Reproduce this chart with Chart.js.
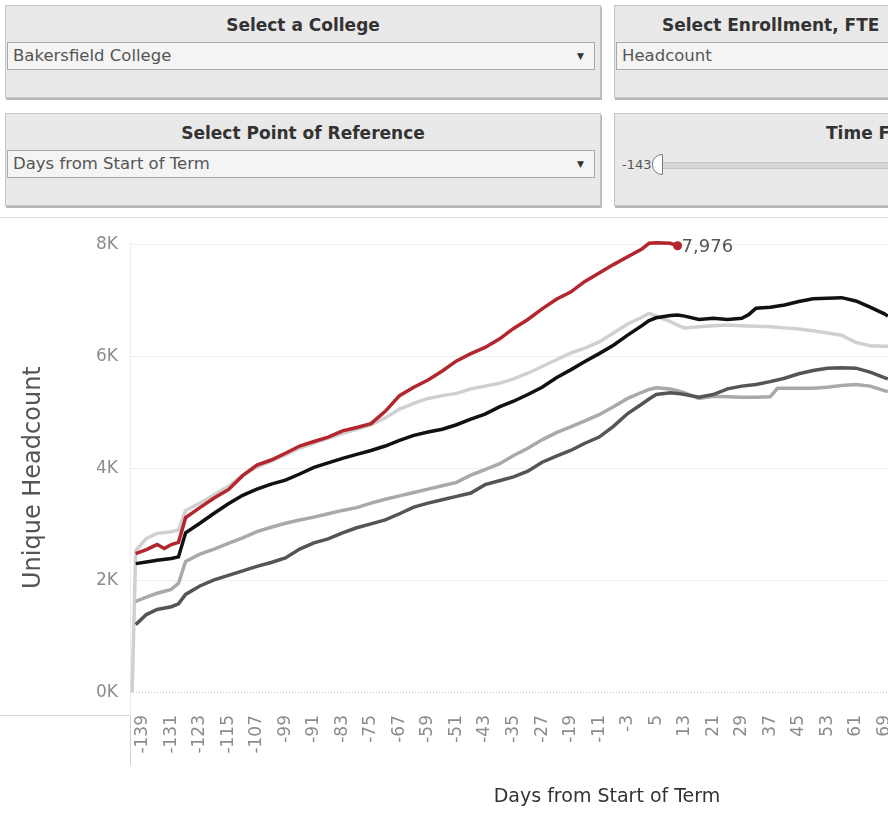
<!DOCTYPE html>
<html>
<head>
<meta charset="utf-8">
<script src="https://cdn.jsdelivr.net/npm/chart.js@4"></script>
<style>
  html, body { margin: 0; padding: 0; }
  body { width: 888px; height: 813px; overflow: hidden; position: relative; background: #fff; font-family: "DejaVu Sans", sans-serif; }
  .panel { position: absolute; width: 596px; height: 93px; background: #e9e9e9; border: 1px solid #c4c4c4; box-shadow: 1px 2px 0 #b8b8b8; box-sizing: border-box; }
  .ptitle { position: absolute; top: 9px; left: 0; right: 0; text-align: center; font-weight: bold; font-size: 17px; color: #333; white-space: nowrap; }
  .drop { position: absolute; left: 1px; right: 5px; top: 36px; height: 28px; background: #f4f4f4; border: 1px solid #a9a9a9; box-sizing: border-box; font-size: 16.5px; color: #555; line-height: 26px; padding-left: 5px; white-space: nowrap; }
  .arrow { position: absolute; right: 10px; top: 0; font-size: 9px; color: #333; }
  .sep { position: absolute; left: 0; top: 217px; width: 888px; height: 1px; background: #dcdcdc; }
  #chartBox { position: absolute; left: 0; top: 220px; width: 1084px; height: 593px; }
</style>
</head>
<body>
<div class="panel" style="left:5px;top:5px">
  <div class="ptitle">Select a College</div>
  <div class="drop">Bakersfield College<span class="arrow">&#9660;</span></div>
</div>
<div class="panel" style="left:5px;top:113px">
  <div class="ptitle">Select Point of Reference</div>
  <div class="drop">Days from Start of Term<span class="arrow">&#9660;</span></div>
</div>
<div class="panel" style="left:614px;top:5px">
  <div class="ptitle" style="text-align:left;left:47px">Select Enrollment, FTE</div>
  <div class="drop" style="right:0">Headcount</div>
</div>
<div class="panel" style="left:614px;top:113px">
  <div class="ptitle" style="text-align:left;left:211px">Time F</div>
  <div style="position:absolute;left:7px;top:43px;font-size:13px;color:#555">-143</div>
  <div style="position:absolute;left:47px;top:48px;width:600px;height:5px;background:#d6d6d6;border:1px solid #c6c6c6"></div>
  <div style="position:absolute;left:37px;top:40px;width:9px;height:19px;background:#fff;border:1px solid #777;border-radius:10px 0 0 10px"></div>
</div>
<div class="sep"></div>
<div id="chartBox"><canvas id="chart" width="1084" height="593"></canvas></div>

<script>
// days from start of term (shared x values)
const days = [-142, -141, -138, -135, -133, -131, -129, -127,
  -123, -119, -115, -111, -107, -103, -99, -95, -91, -87, -83, -79, -75, -71,
  -67, -63, -59, -55, -51, -47, -43, -39, -35, -31, -27, -23, -19, -15, -11,
  -7, -3, 1, 3, 5, 9, 11, 13, 17, 21, 25, 29, 31, 33, 37, 39, 41, 45, 49,
  53, 57, 61, 65, 69, 70];

// unique headcount per term (null = no reading at that day)
const termCurrent = [null, 2480, 2550, 2640, 2570, 2640, 2680, 3120,
  3300, 3470, 3620, 3870, 4060, 4150, 4270, 4400, 4480, 4560, 4670, 4730, 4800, 5020,
  5300, 5450, 5580, 5740, 5920, 6050, 6160, 6310, 6500, 6660, 6850, 7020, 7150, 7340, 7490,
  7640, 7780, 7920, 8020, 8030, 8020, 7976, null, null, null, null, null, null, null, null, null, null, null, null,
  null, null, null, null, null, null];

const termBlack = [null, 2300, 2330, 2360, null, 2390, 2420, 2850,
  3020, 3200, 3370, 3520, 3630, 3720, 3790, 3900, 4020, 4100, 4180, 4250, 4320, 4400,
  4500, 4590, 4650, 4700, 4780, 4880, 4970, 5100, 5200, 5320, 5450, 5620, 5760, 5910, 6050,
  6200, 6380, 6550, 6640, 6690, 6730, 6740, 6720, 6660, 6680, 6660, 6680, 6750, 6860, 6880, null, 6920, 6980, 7030,
  7040, 7050, 6990, 6880, 6760, 6720];

const termLight = [0, 2530, 2750, 2840, null, 2870, 2900, 3250,
  3380, 3530, 3680, 3880, 4020, 4130, 4240, 4360, 4450, 4540, 4620, 4700, 4780, 4900,
  5060, 5160, 5250, 5300, 5340, 5420, 5470, 5520, 5600, 5700, 5820, 5940, 6060, 6150, 6260,
  6420, 6580, 6700, 6770, 6720, 6620, 6560, 6510, 6530, 6550, 6560, 6550, null, 6540, 6530, null, 6510, 6490, 6460,
  6420, 6380, 6250, 6190, 6180, 6180];

const termMid = [null, 1625, 1700, 1770, null, 1840, 1950, 2340,
  2470, 2560, 2660, 2760, 2870, 2950, 3020, 3080, 3130, 3190, 3250, 3300, 3380, 3450,
  3510, 3570, 3630, 3690, 3750, 3880, 3980, 4080, 4230, 4360, 4510, 4640, 4740, 4850, 4960,
  5100, 5250, 5360, 5410, 5440, 5420, 5390, 5350, 5250, 5290, 5280, 5270, null, 5270, 5280, 5430, 5430, 5430, 5430,
  5450, 5480, 5500, 5470, 5390, 5370];

const termDark = [null, 1210, 1390, 1480, null, 1530, 1580, 1750,
  1900, 2010, 2090, 2170, 2250, 2320, 2400, 2560, 2670, 2740, 2850, 2940, 3010, 3080,
  3190, 3310, 3380, 3440, 3500, 3560, 3710, 3780, 3850, 3950, 4110, 4220, 4320, 4450, 4560,
  4750, 4980, 5150, 5240, 5320, 5350, 5340, 5320, 5270, 5320, 5420, 5470, null, 5500, 5550, null, 5610, 5690, 5750,
  5790, 5800, 5790, 5720, 5620, 5600];

const xTicks = [-139, -131, -123, -115, -107, -99, -91, -83, -75, -67, -59, -51, -43,
  -35, -27, -19, -11, -3, 5, 13, 21, 29, 37, 45, 53, 61, 69];
const yTicks = [0, 2000, 4000, 6000, 8000];

const red = '#b3262d';
const lastRed = termCurrent.reduce((a, v, i) => v != null ? i : a, 0);

function pts(vals) {
  return days.map((d, i) => ({ x: d, y: vals[i] }));
}

function series(vals, color) {
  return {
    data: pts(vals),
    borderColor: color,
    backgroundColor: color,
    borderWidth: 3.5,
    pointRadius: 0,
    tension: 0,
    spanGaps: true,
    clip: 8
  };
}

const current = series(termCurrent, red);
current.pointRadius = c => c.dataIndex === lastRed ? 4.5 : 0;
current.pointBorderWidth = 0;

// extra lines: dotted zero line, axis header borders, end label
const decorations = {
  id: 'decorations',
  beforeDatasetsDraw(chart) {
    const { ctx, chartArea, scales } = chart;
    const y0 = Math.round(scales.y.getPixelForValue(0)) + 0.5;
    ctx.save();
    ctx.strokeStyle = '#c4c4c4';
    ctx.lineWidth = 1;
    ctx.setLineDash([1, 2]);
    ctx.beginPath();
    ctx.moveTo(chartArea.left, y0);
    ctx.lineTo(chartArea.right, y0);
    ctx.stroke();
    ctx.setLineDash([]);
    ctx.strokeStyle = '#d2d2d2';
    const b = Math.round(chartArea.bottom) + 2.5;
    ctx.beginPath();
    ctx.moveTo(0, b);
    ctx.lineTo(chartArea.left, b);
    ctx.moveTo(chartArea.left + 0.5, b);
    ctx.lineTo(chartArea.left + 0.5, b + 50);
    ctx.stroke();
    ctx.restore();
  },
  afterDatasetsDraw(chart) {
    const { ctx } = chart;
    const p = chart.getDatasetMeta(0).data[lastRed];
    ctx.save();
    ctx.fillStyle = '#555';
    ctx.font = '18px "DejaVu Sans"';
    ctx.textBaseline = 'middle';
    ctx.fillText(termCurrent[lastRed].toLocaleString('en-US'), p.x + 4, p.y + 2);
    ctx.restore();
  }
};

Chart.defaults.font.family = '"DejaVu Sans", sans-serif';

new Chart(document.getElementById('chart'), {
  type: 'line',
  data: {
    datasets: [
      current,
      series(termBlack, '#111111'),
      series(termDark, '#555555'),
      series(termMid, '#a9a9a9'),
      series(termLight, '#d0d0d0')
    ]
  },
  options: {
    responsive: false,
    animation: false,
    devicePixelRatio: 1,
    layout: { padding: { top: 6, left: 0, right: 0, bottom: 0 } },
    plugins: { legend: { display: false }, tooltip: { enabled: false } },
    scales: {
      x: {
        type: 'linear',
        min: -142.6,
        max: 125,
        afterBuildTicks: s => { s.ticks = xTicks.map(v => ({ value: v })); },
        afterFit: s => { s.height = 100; },
        ticks: {
          autoSkip: false,
          minRotation: 90,
          maxRotation: 90,
          padding: 2,
          color: '#8c8c8c',
          font: { size: 17 },
          callback: v => String(v)
        },
        grid: { display: false, drawTicks: false },
        border: { display: false },
        title: {
          display: true,
          text: 'Days from Start of Term',
          color: '#333',
          font: { size: 19 },
          padding: { top: 0, bottom: 5 }
        }
      },
      y: {
        min: -368,
        max: 8040,
        afterBuildTicks: s => { s.ticks = yTicks.map(v => ({ value: v })); },
        afterFit: s => { s.width = 130; },
        ticks: {
          padding: 12,
          color: '#8c8c8c',
          font: { size: 17 },
          callback: v => (v / 1000) + 'K'
        },
        grid: {
          drawTicks: false,
          color: c => (c.tick && c.tick.value === 0) ? 'rgba(0,0,0,0)' : '#eeeeee'
        },
        border: { display: true, color: '#ececec' },
        title: {
          display: true,
          text: 'Unique Headcount',
          color: '#555',
          font: { size: 24 },
          padding: { top: 19 }
        }
      }
    }
  },
  plugins: [decorations]
});
</script>
</body>
</html>
